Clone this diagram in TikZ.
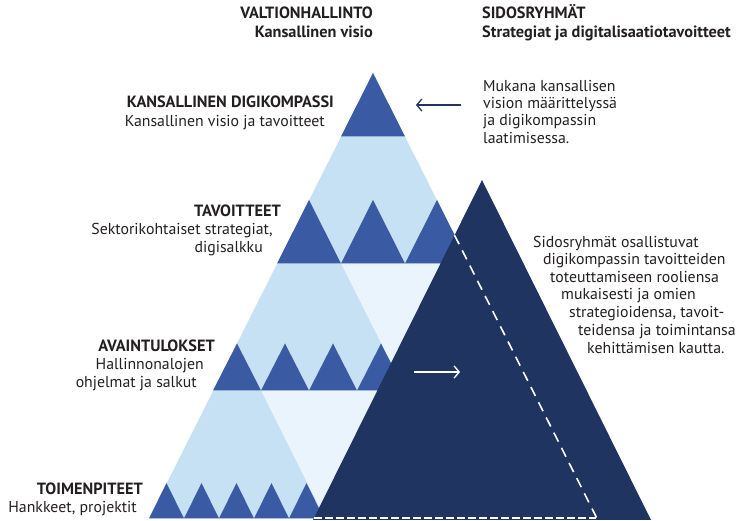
\documentclass[tikz,border=0pt]{standalone}
\usepackage{fontspec}
\setmainfont{PT Sans}
\usetikzlibrary{arrows.meta}
\definecolor{txt}{HTML}{231F20}
\definecolor{tri}{HTML}{3A5BA4}
\definecolor{band}{HTML}{C6E0F4}
\definecolor{pale}{HTML}{EAF4FC}
\definecolor{navy}{HTML}{1F3461}
\begin{document}
\begin{tikzpicture}[x=1pt, y=-1pt,
% common options for the texts:
head/.style = {font=\fontsize{16.3}{18}\selectfont\bfseries, text=txt, inner sep=0},
lbl/.style = {font=\fontsize{15.8}{18}\selectfont, text=txt, inner sep=0},
% common options for the triangles:
peak/.style = {fill=tri},
% common options for the dashed edge and the arrows:
edgeline/.style = {white, line width=1.6pt, dash pattern=on 10pt off 7pt},
baseline/.style = {white, line width=1.6pt, dash pattern=on 8pt off 3pt},
arr/.style = {line width=1.3pt, -{Straight Barb[length=5pt,width=12pt]}}]
\useasboundingbox (0,0) rectangle (740,521);
\coordinate (A) at (373,73);
\coordinate (L) at (149,518.5);
\coordinate (R) at (597,518.5);
\coordinate (N) at (482,180);
\coordinate (NL) at (313,520);
\coordinate (NR) at (651,520);
% the big pyramid
\fill[band] (A) -- (L) -- (R) -- cycle;
\fill[pale] (341,263.5) -- (469,263.5) -- (405,390.5) -- cycle;
\fill[pale] (261,390.5) -- (389,390.5) -- (325,518.5) -- cycle;
\fill[peak] (A) -- (341,136.5) -- (405,136.5) -- cycle;
\fill[peak] (277,263.5) -- (309,200) -- (341,263.5) -- cycle;
\fill[peak] (341,263.5) -- (373,200) -- (405,263.5) -- cycle;
\fill[peak] (405,263.5) -- (437,200) -- (469,263.5) -- cycle;
\fill[peak] (213,390.5) -- (237,343.5) -- (261,390.5) -- cycle;
\fill[peak] (261,390.5) -- (285,343.5) -- (309,390.5) -- cycle;
\fill[peak] (309,390.5) -- (333,343.5) -- (357,390.5) -- cycle;
\fill[peak] (357,390.5) -- (381,343.5) -- (405,390.5) -- cycle;
\fill[peak] (149,518.5) -- (166.5,483) -- (184,518.5) -- cycle;
\fill[peak] (184,518.5) -- (201.5,483) -- (219,518.5) -- cycle;
\fill[peak] (219,518.5) -- (236.5,483) -- (254,518.5) -- cycle;
\fill[peak] (254,518.5) -- (271.5,483) -- (289,518.5) -- cycle;
\fill[peak] (289,518.5) -- (306.5,483) -- (324,518.5) -- cycle;
% the stakeholders' triangle
\fill[navy] (N) -- (NL) -- (NR) -- cycle;
\coordinate (X) at (intersection of A--R and N--NL);
\draw[edgeline] (X) -- (R);
\draw[baseline] (314,518) -- (596,518);
% arrows
\coordinate (a1) at (461,105);
\coordinate (a2) at (416,105);
\draw[arr, navy] (a1) -- (a2);
\coordinate (b1) at (414,372);
\coordinate (b2) at (460,372);
\draw[arr, white] (b1) -- (b2);
% headers
\node[head, anchor=base east] (h1) at (373,19) {VALTIONHALLINTO};
\node[head, anchor=base east] (h2) at (373,38) {Kansallinen visio};
\node[head, anchor=base west] (h3) at (482,19) {SIDOSRYHMÄT};
\node[head, anchor=base west] (h4) at (482,38) {Strategiat ja digitalisaatiotavoitteet};
% levels
\node[head, anchor=base east] (k1) at (334,108) {KANSALLINEN DIGIKOMPASSI};
\node[lbl, anchor=base east] (k2) at (325,127) {Kansallinen visio ja tavoitteet};
\node[head, anchor=base east] (t1) at (281,217) {TAVOITTEET};
\node[lbl, anchor=base east] (t2) at (273,235) {Sektorikohtaiset strategiat,};
\node[lbl, anchor=base east] (t3) at (263,253) {digisalkku};
\node[head, anchor=base east] (v1) at (215,352) {AVAINTULOKSET};
\node[lbl, anchor=base east] (v2) at (204,370) {Hallinnonalojen};
\node[lbl, anchor=base east] (v3) at (197,388) {ohjelmat ja salkut};
\node[head, anchor=base east] (m1) at (143,495) {TOIMENPITEET};
\node[lbl, anchor=base east] (m2) at (137,513) {Hankkeet, projektit};
% stakeholders' texts
\node[lbl, anchor=base west] (s1) at (483,92) {Mukana kansallisen};
\node[lbl, anchor=base west] (s2) at (483,109) {vision määrittelyssä};
\node[lbl, anchor=base west] (s3) at (483,126) {ja digikompassin};
\node[lbl, anchor=base west] (s4) at (483,144) {laatimisessa.};
\node[lbl, anchor=base west] (r1) at (533,248) {Sidosryhmät osallistuvat};
\node[lbl, anchor=base west] (r2) at (543,265) {digikompassin tavoitteiden};
\node[lbl, anchor=base west] (r3) at (550,283) {toteuttamiseen rooliensa};
\node[lbl, anchor=base west] (r4) at (561,300) {mukaisesti ja omien};
\node[lbl, anchor=base west] (r5) at (569,318) {strategioidensa, tavoit-};
\node[lbl, anchor=base west] (r6) at (578,336) {teidensa ja toimintansa};
\node[lbl, anchor=base west] (r7) at (587,354) {kehittämisen kautta.};
\end{tikzpicture}
\end{document}
